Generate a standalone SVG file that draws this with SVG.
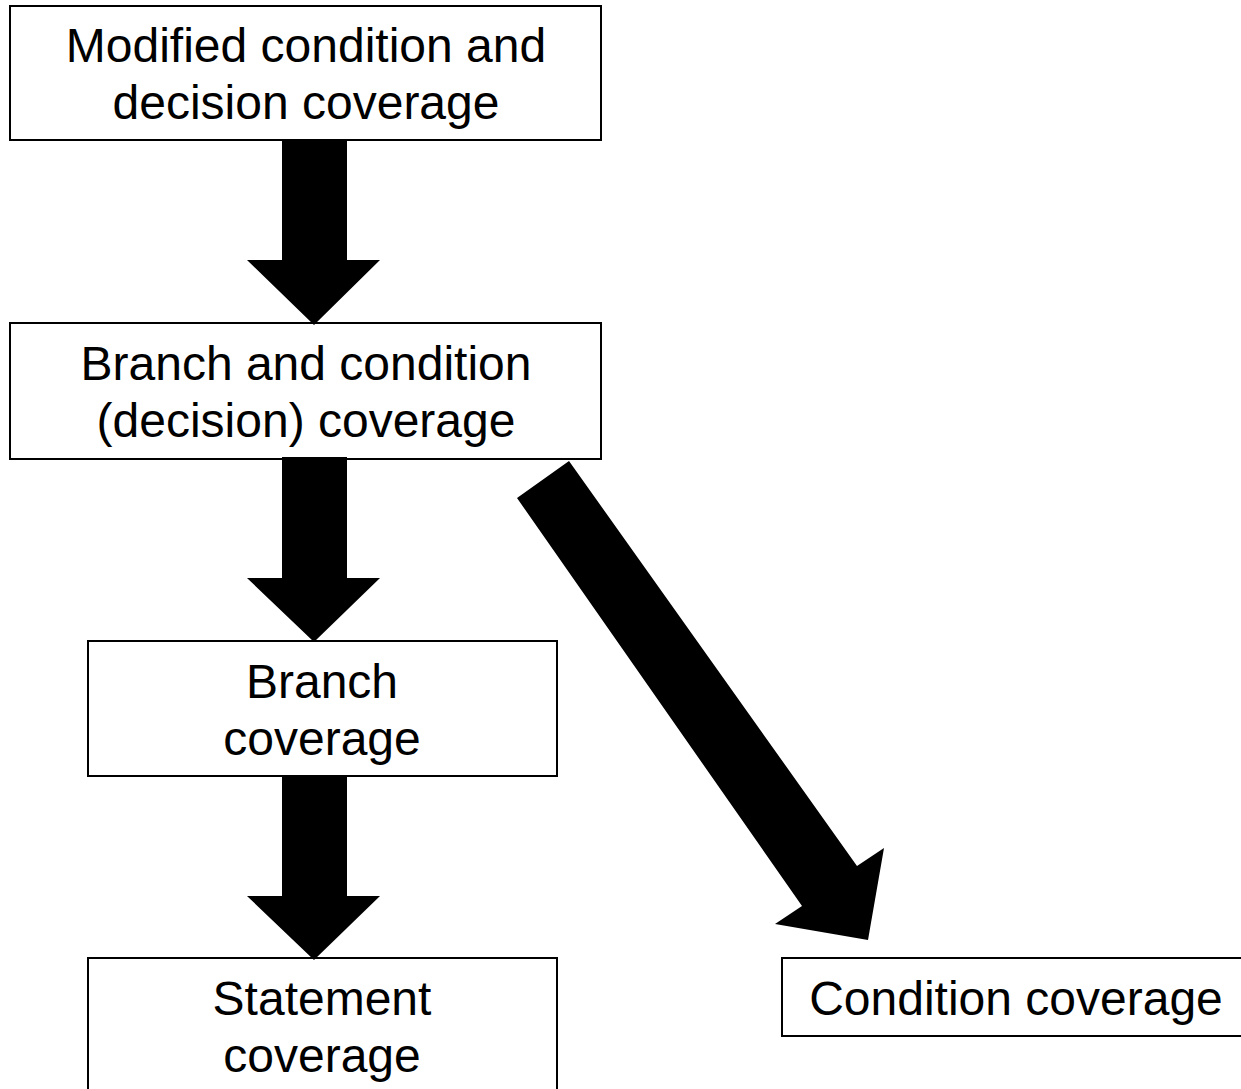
<svg xmlns="http://www.w3.org/2000/svg" width="1241" height="1089" viewBox="0 0 1241 1089">
<style>
.box{fill:#fff;stroke:#000;stroke-width:2}
.t{font-family:"Liberation Sans",Arial,sans-serif;font-size:48px;fill:#000;text-anchor:middle}
.arr{fill:#000;stroke:none}
</style>
<rect width="1241" height="1089" fill="#fff"/>
<g id="node-mcdc">
<rect class="box" x="10" y="6" width="591" height="134"/>
<text class="t" x="306" y="62">Modified condition and</text>
<text class="t" x="306" y="119">decision coverage</text>
</g>
<g id="node-bcc">
<rect class="box" x="10" y="323" width="591" height="136"/>
<text class="t" x="306" y="380">Branch and condition</text>
<text class="t" x="306" y="437">(decision) coverage</text>
</g>
<g id="node-branch">
<rect class="box" x="88" y="641" width="469" height="135"/>
<text class="t" x="322" y="698">Branch</text>
<text class="t" x="322" y="755">coverage</text>
</g>
<g id="node-statement">
<rect class="box" x="88" y="958" width="469" height="140"/>
<text class="t" x="322" y="1015">Statement</text>
<text class="t" x="322" y="1072">coverage</text>
</g>
<g id="node-condition">
<rect class="box" x="782" y="958" width="470" height="78"/>
<text class="t" x="1016" y="1015">Condition coverage</text>
</g>
<g id="connectors">
<polygon class="arr" points="282,139 347,139 347,260 380,260 314,325 247,260 282,260"/>
<polygon class="arr" points="282,457 347,457 347,578 380,578 314,642 247,578 282,578"/>
<polygon class="arr" points="282,775 347,775 347,896 380,896 314,960 247,896 282,896"/>
<polygon class="arr" points="569,461 857,866 884,848 868,940 775,924 802,906 517,498"/>
</g>
</svg>
